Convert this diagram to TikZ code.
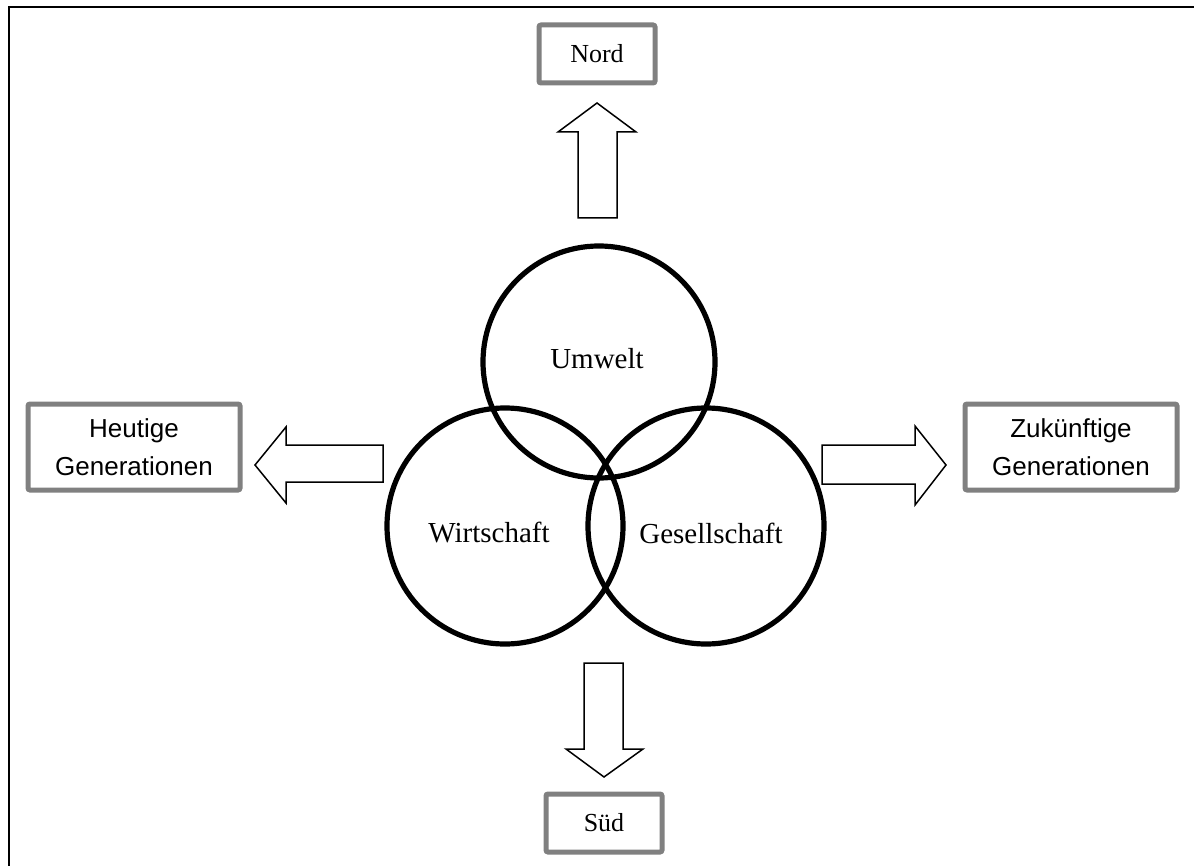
\documentclass[tikz,border=0pt]{standalone}
\usepackage{fontspec}
\setmainfont{Liberation Serif}
\setsansfont{Liberation Sans}
\usetikzlibrary{positioning}

\tikzset{
  ring/.style={circle,draw,line width=2.6pt,inner sep=0pt},
  dirbox/.style={draw=gray,line width=2.5pt,rounded corners=1pt,fill=white,
    minimum width=58pt,minimum height=29pt,inner sep=0pt,
    font=\fontsize{13}{15}\selectfont},
  genbox/.style={dirbox,minimum width=106pt,minimum height=43pt,align=center,
    font=\sffamily\fontsize{13}{19}\selectfont},
  hollow/.style={draw,line width=0.75pt,fill=white,line join=miter},
  ringtext/.style={font=\fontsize{14.5}{16}\selectfont}
}

\begin{document}
\begin{tikzpicture}[x=0.5pt,y=-0.5pt]
        \useasboundingbox (0,0) rectangle (1194,866);
        \draw[line width=1pt] (9,880) -- (9,7) -- (1210,7);

        % the three pillars
        \node[ring,minimum size=116pt] (umwelt) at (599,362) {};
        \node[ring,minimum size=118pt] (wirt) at (505,526) {};
        \node[ring,minimum size=118pt] (gesell) at (706,526) {};
        \node[ringtext] (tumwelt) at (597,359) {Umwelt};
        \node[ringtext] (twirt) at (489,533) {Wirtschaft};
        \node[ringtext] (tgesell) at (711,533) {Gesellschaft};

        % boxes
        \node[dirbox] (nord) at (597,54) {Nord};
        \node[dirbox] (sued) at (604,823) {Süd};
        \node[genbox] (heute) at (134,447) {Heutige\\Generationen};
        \node[genbox] (zukunft) at (1071,447) {Zukünftige\\Generationen};

        % block arrows
        \draw[hollow] (578,218) -- (578,132) -- (558,132) -- (597,103)
          -- (636,132) -- (617,132) -- (617,218) -- cycle;
        \draw[hollow] (584,663) -- (584,749) -- (566,749) -- (604,777)
          -- (643,749) -- (623,749) -- (623,663) -- cycle;
        \draw[hollow] (383,445) -- (286,445) -- (286,427) -- (255,465)
          -- (286,503) -- (286,482) -- (383,482) -- cycle;
        \draw[hollow] (822,445) -- (915,445) -- (915,426) -- (946,465)
          -- (915,505) -- (915,484) -- (822,484) -- cycle;
    \end{tikzpicture}
\end{document}
